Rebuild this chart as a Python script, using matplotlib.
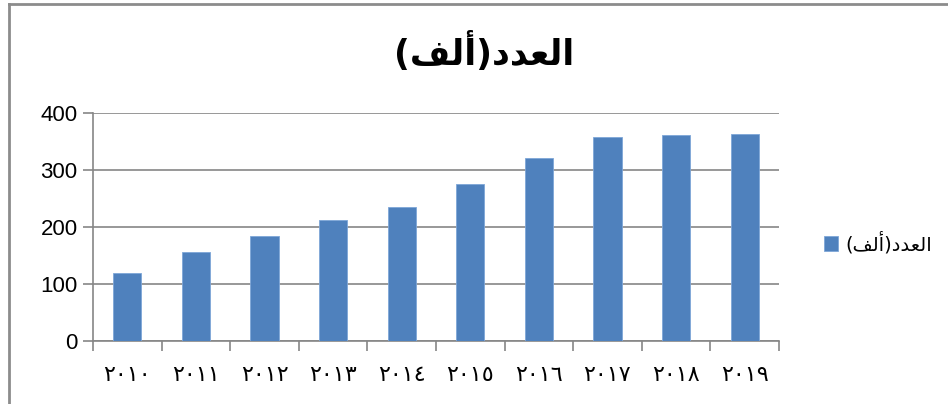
import numpy as np
import matplotlib.pyplot as plt
from matplotlib.lines import Line2D

# Data
years = ['\u0662\u0660\u0661\u0660', '\u0662\u0660\u0661\u0661', '\u0662\u0660\u0661\u0662',
         '\u0662\u0660\u0661\u0663', '\u0662\u0660\u0661\u0664', '\u0662\u0660\u0661\u0665',
         '\u0662\u0660\u0661\u0666', '\u0662\u0660\u0661\u0667', '\u0662\u0660\u0661\u0668',
         '\u0662\u0660\u0661\u0669']
values = [119, 156, 184, 212, 235, 275, 321, 358, 361, 363]
yticks = [0, 100, 200, 300, 400]

# "العدد(ألف)" written in shaped presentation forms, visual order (matplotlib has no bidi)
label = '(\uFED2\uFEDF\uFE83)\uFEA9\uFEAA\uFECC\uFEDF\uFE8D'

bar_color = '#4F81BD'
grid_color = '#868686'

fig = plt.figure(figsize=(9.48, 4.04), dpi=100)
ax = fig.add_axes([93 / 948, 1 - 341 / 404, (779 - 93) / 948, (341 - 113) / 404])

x = np.arange(len(values))
ax.bar(x, values, width=0.41, color=bar_color, edgecolor='#7EA6D8', linewidth=0.6,
       zorder=3, label=label)

ax.set_xlim(-0.5, len(values) - 0.5)
ax.set_ylim(0, 400)
ax.set_yticks(yticks)
ax.set_yticklabels([str(v) for v in yticks], fontsize=16, family='Liberation Sans')
ax.yaxis.grid(True, color=grid_color, linewidth=1.2, zorder=0)

# category labels at centers, tick marks at boundaries
ax.set_xticks(x)
ax.set_xticklabels(years, fontsize=16, family=['DejaVu Sans'])
ax.set_xticks(np.arange(len(values) + 1) - 0.5, minor=True)
ax.tick_params(axis='x', which='major', length=0, pad=17)
ax.tick_params(axis='x', which='minor', length=7, color=grid_color, width=1.2)
ax.tick_params(axis='y', length=7, color=grid_color, width=1.2, pad=4)

for s in ['top', 'right']:
    ax.spines[s].set_visible(False)
for s in ['left', 'bottom']:
    ax.spines[s].set_color(grid_color)
    ax.spines[s].set_linewidth(1.2)

fig.text(484 / 948, 1 - 52 / 404, label, fontsize=25, fontweight='bold',
         family='DejaVu Sans', ha='center', va='center')

leg = fig.legend(loc='center left', bbox_to_anchor=(806 / 948, 1 - 243 / 404),
                 frameon=False, fontsize=14, handlelength=0.75, handleheight=0.75,
                 handletextpad=0.4)

# chart border (left and top edges visible)
fig.add_artist(Line2D([8.5 / 948, 8.5 / 948], [0, 1 - 4 / 404], color='#8C8C8C', lw=2,
                      transform=fig.transFigure))
fig.add_artist(Line2D([8.5 / 948, 1], [1 - 4 / 404, 1 - 4 / 404], color='#8C8C8C', lw=2,
                      transform=fig.transFigure))

fig.savefig('out.png', dpi=100)
